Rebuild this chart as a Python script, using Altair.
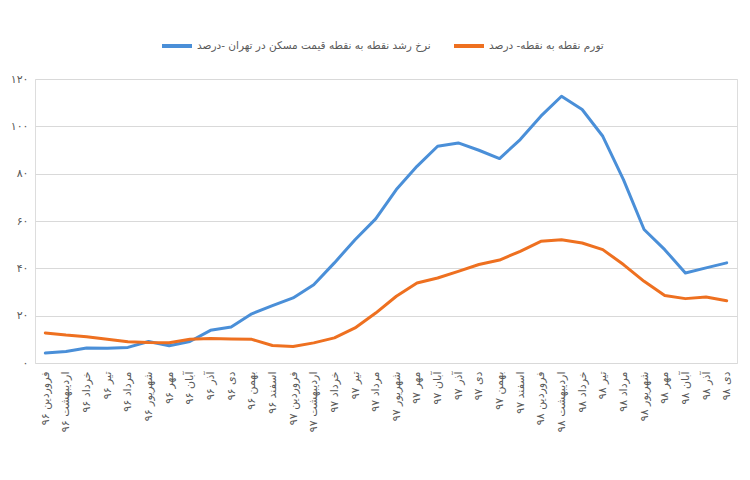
import altair as alt
import pandas as pd

months = ["فروردین", "اردیبهشت", "خرداد", "تیر", "مرداد", "شهریور",
          "مهر", "آبان", "آذر", "دی", "بهمن", "اسفند"]
years = ["۹۶", "۹۷", "۹۸"]
labels = [f"{m} {y}" for y in years for m in months][:34]

series_blue = "نرخ رشد نقطه به نقطه قیمت مسکن در تهران -درصد"
series_orange = "تورم نقطه به نقطه- درصد"

blue = [4.2, 4.9, 6.3, 6.2, 6.6, 9.1, 7.3, 9.1, 13.8, 15.2, 20.8, 24.2,
        27.5, 33.1, 42.3, 52.1, 60.9, 73.3, 83.1, 91.6, 93.0, 89.9, 86.4, 94.4,
        104.3, 112.7, 107.1, 95.8, 77.5, 56.4, 47.9, 38.0, 40.2, 42.3]
orange = [12.7, 11.8, 11.1, 10.0, 9.0, 8.7, 8.6, 10.0, 10.3, 10.1, 10.0, 7.4,
          7.0, 8.5, 10.6, 14.8, 21.1, 28.2, 33.8, 35.9, 38.7, 41.6, 43.5, 47.2,
          51.4, 52.1, 50.7, 47.9, 41.6, 34.5, 28.5, 27.2, 27.9, 26.3]

y_ticks = [0, 20, 40, 60, 80, 100, 120]
y_tick_labels = ["۰", "۲۰", "۴۰", "۶۰", "۸۰", "۱۰۰", "۱۲۰"]

rows = []
for i, lab in enumerate(labels):
    rows.append({"month": lab, "series": series_blue, "value": blue[i]})
    rows.append({"month": lab, "series": series_orange, "value": orange[i]})
df = pd.DataFrame(rows)

label_expr = "[" + ",".join(f"'{t}'" for t in y_tick_labels) + "][indexof([" + \
    ",".join(str(t) for t in y_ticks) + "], datum.value)]"

FONT = "DejaVu Sans"

chart = alt.Chart(df).mark_line(strokeWidth=3, strokeJoin="round", strokeCap="round").encode(
    x=alt.X("month:N", sort=labels, title=None,
            axis=alt.Axis(labelAngle=270, labelPadding=8, ticks=False, domain=False,
                          labelFontSize=11, labelColor="#595959", labelFont=FONT,
                          labelLimit=200)),
    y=alt.Y("value:Q", title=None,
            scale=alt.Scale(domain=[0, 120], nice=False),
            axis=alt.Axis(values=y_ticks, labelExpr=label_expr, ticks=False, domain=False,
                          gridColor="#d9d9d9", gridWidth=1, labelPadding=7,
                          labelFontSize=11, labelColor="#595959", labelFont=FONT)),
    color=alt.Color("series:N", sort=[series_blue, series_orange],
                    scale=alt.Scale(domain=[series_blue, series_orange],
                                    range=["#4A8FD8", "#EE7020"]),
                    legend=alt.Legend(orient="none", legendX=125, legendY=-50,
                                      direction="horizontal", columns=2, title=None,
                                      symbolType="stroke", symbolStrokeWidth=4,
                                      symbolSize=900, labelFontSize=10.5,
                                      labelColor="#595959", labelFont=FONT,
                                      labelLimit=400, columnPadding=15,
                                      labelOffset=3)),
).properties(
    width=702, height=284,
    autosize=alt.AutoSizeParams(type="none"),
    padding={"left": 27, "top": 71, "right": 5, "bottom": 100},
).configure_view(stroke=None).configure(background="white")

chart.save("out.html", embed_options={"renderer": "svg", "actions": False})
